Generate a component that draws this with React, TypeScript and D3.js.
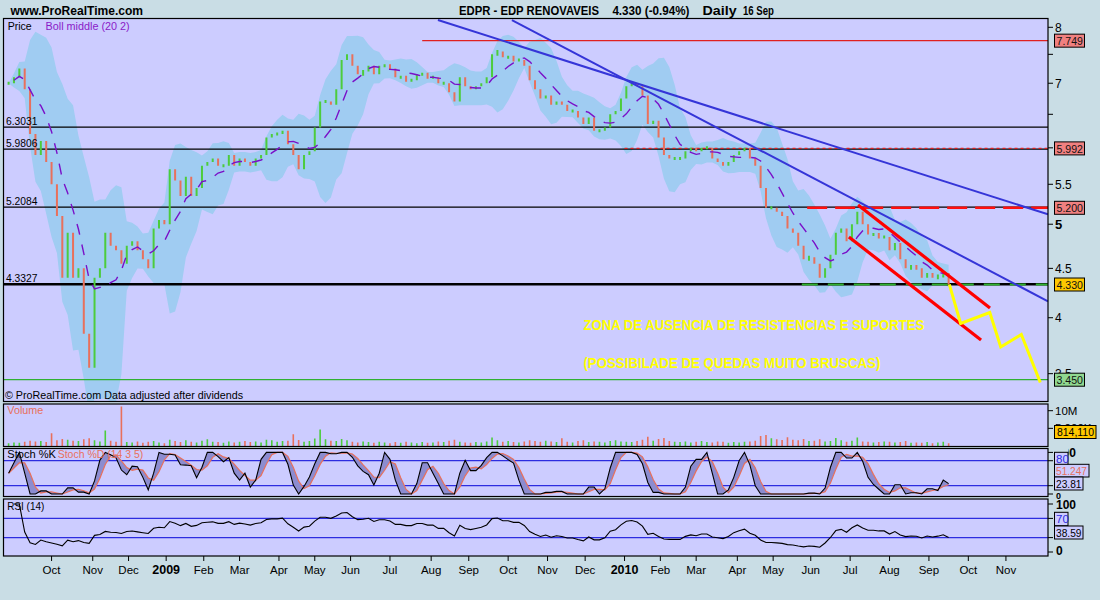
import React from "react";
import * as d3 from "d3";

// ---------- calendar (trading days shown on the time axis) ----------
const CAL_START = "2008-08-27";
const CAL_END = "2010-11-30";
const HOLIDAYS = [
  "2008-12-25", "2008-12-26", "2009-01-01", "2009-04-10", "2009-04-13",
  "2009-05-01", "2009-12-25", "2010-01-01", "2010-04-02", "2010-04-05",
];
const MONTH_LABELS = ["Jan", "Feb", "Mar", "Apr", "May", "Jun", "Jul", "Aug", "Sep", "Oct", "Nov", "Dec"];

// ---------- price data: one close every 3 trading days (first = trading day 1) ----------
const SAMPLE_FIRST_DAY = 1;
const SAMPLE_STEP = 3;
const closes = [
  7.0, 7.1, 7.25, 6.9, 6.2, 5.9, 6.1, 5.8, 5.5, 5.1,
  4.4, 4.9, 4.4, 4.5, 3.85, 3.55, 4.4, 4.5, 4.9, 4.75,
  4.7, 4.55, 4.75, 4.8, 4.7, 4.6, 4.5, 4.95, 5.05, 5.0,
  5.7, 5.55, 5.35, 5.6, 5.35, 5.45, 5.75, 5.8, 5.85, 5.75,
  5.75, 5.9, 5.75, 5.85, 5.8, 5.75, 5.85, 5.9, 6.15, 6.2,
  6.2, 6.25, 6.05, 5.9, 5.7, 5.9, 5.95, 6.3, 6.7, 6.7,
  6.65, 6.9, 7.4, 7.5, 7.3, 7.15, 7.2, 7.3, 7.15, 7.3,
  7.3, 7.25, 7.1, 7.1, 7.05, 7.05, 7.15, 7.15, 7.1, 7.1,
  7.0, 7.0, 6.85, 6.7, 7.1, 6.95, 6.9, 6.95, 7.0, 7.1,
  7.5, 7.55, 7.45, 7.45, 7.4, 7.4, 7.3, 7.05, 6.9, 6.75,
  6.8, 6.65, 6.7, 6.65, 6.55, 6.55, 6.45, 6.35, 6.45, 6.25,
  6.25, 6.3, 6.5, 6.55, 6.75, 6.95, 7.0, 6.95, 6.8, 6.35,
  6.4, 6.15, 5.9, 5.85, 5.85, 5.85, 5.95, 6.0, 5.95, 6.0,
  6.0, 5.85, 5.8, 5.75, 5.8, 5.9, 5.95, 6.0, 5.85, 5.75,
  5.45, 5.2, 5.2, 5.15, 5.1, 4.95, 4.9, 4.75, 4.6, 4.62,
  4.55, 4.4, 4.5, 4.65, 4.9, 4.95, 4.8, 5.0, 5.15, 5.0,
  4.88, 4.88, 4.85, 4.85, 4.7, 4.78, 4.6, 4.5, 4.52, 4.5,
  4.4, 4.45, 4.4, 4.42, 4.45, 4.33,
];
// volume in millions, same sampling
const volumesM = [
  0.8, 1.0, 0.9, 1.2, 1.5, 1.3, 1.4, 1.1, 3.6, 1.6,
  2.0, 1.8, 1.5, 1.4, 1.9, 2.2, 1.6, 1.3, 4.4, 1.5,
  1.2, 11.2, 1.1, 1.0, 1.3, 0.9, 1.2, 1.4, 1.0, 0.8,
  1.8, 1.4, 1.1, 1.6, 1.2, 1.0, 1.5, 1.9, 1.2, 1.1,
  0.9, 1.3, 1.0, 1.2, 1.4, 1.1, 1.3, 1.0, 1.8, 1.6,
  1.2, 1.4, 1.5, 3.3, 1.7, 1.2, 1.4, 2.1, 4.7, 1.9,
  1.5, 1.4, 2.0, 1.6, 1.2, 1.0, 1.3, 1.1, 0.9, 1.2,
  1.0, 0.8, 1.1, 0.9, 1.2, 1.0, 0.8, 1.1, 0.9, 1.0,
  1.3, 1.1, 1.5, 1.8, 1.2, 1.0, 0.9, 1.1, 1.0, 1.3,
  2.4, 1.6, 1.2, 1.4, 1.1, 1.0, 1.3, 1.6, 1.4, 1.2,
  1.5, 1.3, 1.1, 2.2, 1.2, 1.0, 1.4, 1.6, 1.1, 1.3,
  1.2, 1.0, 1.4, 1.6, 1.3, 1.2, 1.1, 1.4, 1.8, 2.6,
  1.5, 2.0, 2.3, 1.4, 1.2, 1.1, 1.3, 1.0, 1.2, 1.4,
  1.1, 1.0, 1.3, 1.2, 0.9, 1.1, 1.0, 1.2, 1.3, 1.5,
  2.8, 3.1, 2.2, 1.9, 1.7, 2.5, 1.8, 1.6, 2.0, 1.4,
  1.5, 1.9, 1.3, 1.4, 2.3, 1.6, 1.2, 1.5, 2.4, 1.3,
  1.2, 1.0, 1.1, 1.3, 1.2, 1.0, 1.1, 1.4, 0.9, 1.0,
  0.9, 1.1, 0.8, 1.0, 1.2, 0.8,
];

// ---------- axis ticks ----------
const priceTicks = [3.5, 4, 4.5, 5, 5.5, 6, 6.5, 7, 7.5, 8];
const priceTickLabels = ["3.5", "4", "4.5", "5", "5.5", "", "", "7", "", "8"];

// ---------- horizontal levels ----------
const pivotLevels = [6.3031, 5.9806, 5.2084, 4.3327];
const pivotLabels = ["6.3031", "5.9806", "5.2084", "4.3327"];
const markerLevels = [7.749, 5.992, 5.2, 4.33, 3.45];
const markerLabels = ["7.749", "5.992", "5.200", "4.330", "3.450"];
const markerFromDay = [232, 345, 447, 444, 0];

// ---------- drawn annotations: [trading day, price] ----------
const blueLines = [
  [[240.8, 8.14], [581.5, 5.12]],
  [[282.1, 8.14], [581.5, 4.16]],
];
const redLines = [
  [[475.4, 5.235], [549.1, 4.094]],
  [[470.3, 4.85], [544.1, 3.793]],
];
const yellowPath = [
  [526.4, 4.332], [532.7, 3.946], [549.0, 4.05], [555.1, 3.73], [566.6, 3.844], [577.2, 3.427],
];
const noteLines = [
  "ZONA DE AUSENCIA DE RESISTENCIAS E SUPORTES",
  "(POSSIBILADE DE QUEDAS MUITO BRUSCAS)",
];

// ---------- helpers ----------
function buildCalendar(): Date[] {
  const out: Date[] = [];
  const hol = new Set(HOLIDAYS);
  const d = new Date(CAL_START + "T00:00:00Z");
  const end = new Date(CAL_END + "T00:00:00Z");
  while (d <= end) {
    const wd = d.getUTCDay();
    const key = d.toISOString().slice(0, 10);
    if (wd !== 0 && wd !== 6 && !hol.has(key)) out.push(new Date(d));
    d.setUTCDate(d.getUTCDate() + 1);
  }
  return out;
}
const sma = (arr: number[], i: number, w: number) => d3.mean(arr.slice(Math.max(0, i - w + 1), i + 1)) as number;

const FONT = "'Liberation Sans', Arial, sans-serif";

export default function App() {
  const cal = buildCalendar();
  const PL = 3.5, PR = 1048;
  const pTop = 18.5, pBot = 401.5;
  const vTop = 404, vBot = 446.5;
  const sTop = 448.5, sBot = 496.5;
  const rTop = 499, rBot = 556;

  const x = d3.scaleLinear().domain([0, 581.5]).range([6.8, 1048]);
  const y = d3.scaleLog().domain([3.45, 8]).range([379.7, 27.3]);
  const vy = d3.scaleLinear().domain([0, 10e6]).range([446, 410.7]);
  const sy = d3.scaleLinear().domain([0, 100]).range([494, 452.4]);
  const ry = d3.scaleLinear().domain([0, 100]).range([552, 504]);

  const n = closes.length;
  const dayOf = (i: number) => SAMPLE_FIRST_DAY + SAMPLE_STEP * i;
  const idx = d3.range(n);

  // Bollinger (20 days ~ 7 samples)
  const W = 7;
  const boll = idx.map((i) => {
    const win = closes.slice(Math.max(0, i - W + 1), i + 1);
    const m = d3.mean(win) as number;
    const sd = Math.sqrt(d3.mean(win.map((v) => (v - m) * (v - m))) as number);
    return { i, m, up: m + 2.4 * sd, lo: m - 2.4 * sd };
  });

  // Stochastic
  const raw = idx.map((i) => {
    const win = closes.slice(Math.max(0, i - 5), i + 1);
    const hh = d3.max(win) as number, ll = d3.min(win) as number;
    return hh === ll ? 50 : (100 * (closes[i] - ll)) / (hh - ll);
  });
  const K = idx.map((i) => sma(raw, i, 2));
  const D = idx.map((i) => sma(K, i, 3));

  // RSI (Wilder)
  const P = 10;
  const rsi: number[] = [];
  let ag = 0, al = 0;
  for (let i = 0; i < n; i++) {
    if (i === 0) { rsi.push(50); continue; }
    const ch = closes[i] - closes[i - 1];
    const g = Math.max(ch, 0), l = Math.max(-ch, 0);
    if (i <= P) { ag += g / P; al += l / P; }
    else { ag = (ag * (P - 1) + g) / P; al = (al * (P - 1) + l) / P; }
    rsi.push(al === 0 ? 100 : 100 - 100 / (1 + ag / al));
  }

  const bandArea = d3.area<any>().x((d) => x(dayOf(d.i))).y0((d) => y(d.lo)).y1((d) => y(d.up));
  const midLine = d3.line<any>().x((d) => x(dayOf(d.i))).y((d) => y(d.m));
  const kLine = d3.line<number>().x((i) => x(dayOf(i))).y((i) => sy(K[i]));
  const dLine = d3.line<number>().x((i) => x(dayOf(i))).y((i) => sy(D[i]));
  const kdArea = d3.area<number>().x((i) => x(dayOf(i))).y0((i) => sy(D[i])).y1((i) => sy(K[i]));
  const rsiLine = d3.line<number>().x((i) => x(dayOf(i))).y((i) => ry(rsi[i]));
  const ptLine = d3.line<number[]>().x((p) => x(p[0])).y((p) => y(p[1]));

  // month ticks
  const monthTicks: { d: number; label: string; bold: boolean }[] = [];
  cal.forEach((dt, i) => {
    if (i === 0 || dt.getUTCMonth() !== cal[i - 1].getUTCMonth()) {
      const m = dt.getUTCMonth();
      monthTicks.push({ d: i, label: m === 0 ? String(dt.getUTCFullYear()) : MONTH_LABELS[m], bold: m === 0 });
    }
  });

  const UP = "#4ccc3c", DN = "#e8705c";
  const panelBg = "#ccccff";
  const boxFills = ["#f08080", "#f08080", "#f08080", "#ffc800", "#90d890"];

  return (
    <svg width={1100} height={600} style={{ position: "absolute", left: 0, top: 0 }} fontFamily={FONT}>
      <defs>
        <clipPath id="pclip"><rect x={PL} y={pTop} width={PR - PL} height={pBot - pTop} /></clipPath>
        <clipPath id="vclip"><rect x={PL} y={vTop} width={PR - PL} height={vBot - vTop} /></clipPath>
        <clipPath id="sclip"><rect x={PL} y={sTop} width={PR - PL} height={sBot - sTop} /></clipPath>
        <clipPath id="rclip"><rect x={PL} y={rTop} width={PR - PL} height={rBot - rTop} /></clipPath>
        <clipPath id="v5clip"><rect x={1050} y={418} width={50} height={7.5} /></clipPath>
        <clipPath id="s100clip"><rect x={1068.5} y={440} width={30} height={24} /></clipPath>
        <clipPath id="p35clip"><rect x={1050} y={360} width={50} height={13} /></clipPath>
      </defs>
      <rect x={0} y={0} width={1100} height={600} fill="#c9dde5" />

      {/* header */}
      <text x={10.5} y={14.7} fontSize={13} fontWeight="bold" textLength={132.5} lengthAdjust="spacingAndGlyphs">www.ProRealTime.com</text>
      <text x={459} y={14.5} fontSize={12.5} fontWeight="bold" textLength={140} lengthAdjust="spacingAndGlyphs">EDPR - EDP RENOVAVEIS</text>
      <text x={612.4} y={14.5} fontSize={12.5} fontWeight="bold" textLength={77} lengthAdjust="spacingAndGlyphs">4.330 (-0.94%)</text>
      <text x={702.6} y={14.5} fontSize={12.5} fontWeight="bold" textLength={34} lengthAdjust="spacingAndGlyphs">Daily</text>
      <text x={743} y={14.5} fontSize={12.5} fontWeight="bold" textLength={31} lengthAdjust="spacingAndGlyphs">16 Sep</text>

      {/* ===== price panel ===== */}
      <rect x={PL} y={pTop} width={PR - PL} height={pBot - pTop} fill={panelBg} />
      <g clipPath="url(#pclip)">
        <path d={bandArea(boll) as string} fill="#a0ccf2" />
        {pivotLevels.map((p, k) => (
          <line key={"pv" + k} x1={PL} x2={PR} y1={y(p)} y2={y(p)} stroke="#000" strokeWidth={k === 3 ? 2.5 : 1.2} />
        ))}
        <line x1={x(markerFromDay[0])} x2={PR} y1={y(markerLevels[0])} y2={y(markerLevels[0])} stroke="#e02020" strokeWidth={1.2} />
        <line x1={x(markerFromDay[1])} x2={PR} y1={y(markerLevels[1])} y2={y(markerLevels[1])} stroke="#e02020" strokeWidth={1.2} strokeDasharray="3 3" />
        <line x1={x(markerFromDay[2])} x2={PR} y1={y(markerLevels[2])} y2={y(markerLevels[2])} stroke="#ff1010" strokeWidth={2.5} strokeDasharray="20 8" />
        <line x1={x(markerFromDay[3])} x2={PR} y1={y(markerLevels[3])} y2={y(markerLevels[3])} stroke="#30b030" strokeWidth={2} strokeDasharray="16 10" />
        <line x1={PL} x2={PR} y1={y(markerLevels[4])} y2={y(markerLevels[4])} stroke="#30b030" strokeWidth={1.2} />

        {idx.map((i) => {
          const c = closes[i];
          const pc = i === 0 ? c : closes[i - 1];
          let y1 = y(Math.max(c, pc)), y2 = y(Math.min(c, pc));
          if (y2 - y1 < 3) { y1 -= 1.5; y2 += 1.5; }
          const xx = x(dayOf(i));
          return <line key={"b" + i} x1={xx} x2={xx} y1={y1} y2={y2} stroke={c >= pc ? UP : DN} strokeWidth={2} />;
        })}
        <path d={midLine(boll.slice(1)) as string} fill="none" stroke="#7a10c8" strokeWidth={1.4} strokeDasharray="11 10" />

        {blueLines.map((l, k) => (
          <path key={"bl" + k} d={ptLine(l) as string} stroke="#3535d8" strokeWidth={2} fill="none" />
        ))}
        {redLines.map((l, k) => (
          <path key={"rl" + k} d={ptLine(l) as string} stroke="#ff0000" strokeWidth={3.2} fill="none" />
        ))}
        <path d={ptLine(yellowPath) as string} stroke="#ffff00" strokeWidth={3} fill="none" strokeLinejoin="miter" />

        <text x={583.4} y={330} fontSize={14} fontWeight="bold" fill="#ffff00" textLength={341} lengthAdjust="spacingAndGlyphs">{noteLines[0]}</text>
        <text x={583.4} y={368} fontSize={14} fontWeight="bold" fill="#ffff00" textLength={297} lengthAdjust="spacingAndGlyphs">{noteLines[1]}</text>

        {pivotLevels.map((p, k) => (
          <text key={"pl" + k} x={6} y={y(p) - 2.3} fontSize={11} fill="#000" textLength={31.5} lengthAdjust="spacingAndGlyphs">{pivotLabels[k]}</text>
        ))}
      </g>
      <text x={7.7} y={29.5} fontSize={10} fill="#000" textLength={24} lengthAdjust="spacingAndGlyphs">Price</text>
      <text x={45.6} y={29.5} fontSize={10} fill="#8a1ac8" textLength={84} lengthAdjust="spacingAndGlyphs">Boll middle (20 2)</text>
      <text x={5} y={398.6} fontSize={11} fill="#000" textLength={238} lengthAdjust="spacingAndGlyphs">© ProRealTime.com  Data adjusted after dividends</text>
      <rect x={PL} y={pTop} width={PR - PL} height={pBot - pTop} fill="none" stroke="#000" strokeWidth={1.2} />

      {/* price axis */}
      {priceTicks.map((p, k) => (
        <g key={"pt" + k}>
          <line x1={PR} x2={PR + 5} y1={y(p)} y2={y(p)} stroke="#000" />
          {priceTickLabels[k] && (
            <text x={PR + 7} y={y(p) + 4.5} fontSize={p === 5 ? 13 : 12} fontWeight={p === 5 ? "bold" : "normal"}
              clipPath={p === 3.5 ? "url(#p35clip)" : undefined}>{priceTickLabels[k]}</text>
          )}
        </g>
      ))}
      {markerLevels.map((p, k) => (
        <g key={"mk" + k}>
          <rect x={1054.5} y={y(p) - 6.5} width={30} height={13} fill={boxFills[k]} stroke="#000" strokeWidth={1} />
          <text x={1056.5} y={y(p) + 4.5} fontSize={11.5} fill="#111" textLength={26.5} lengthAdjust="spacingAndGlyphs">{markerLabels[k]}</text>
        </g>
      ))}

      {/* ===== volume panel ===== */}
      <rect x={PL} y={vTop} width={PR - PL} height={vBot - vTop} fill={panelBg} />
      <g clipPath="url(#vclip)">
        {idx.map((i) => {
          const xx = x(dayOf(i));
          const up = i === 0 || closes[i] >= closes[i - 1];
          return <line key={"v" + i} x1={xx} x2={xx} y1={vy(0)} y2={vy(volumesM[i] * 1e6)} stroke={up ? UP : DN} strokeWidth={1.6} />;
        })}
      </g>
      <text x={7.3} y={414} fontSize={10} fill="#e8705c" textLength={36} lengthAdjust="spacingAndGlyphs">Volume</text>
      <rect x={PL} y={vTop} width={PR - PL} height={vBot - vTop} fill="none" stroke="#000" strokeWidth={1.2} />
      <line x1={PR} x2={PR + 5} y1={vy(10e6)} y2={vy(10e6)} stroke="#000" />
      <text x={PR + 7} y={vy(10e6) + 4} fontSize={11.5}>10M</text>
      <line x1={PR} x2={PR + 5} y1={vy(5e6)} y2={vy(5e6)} stroke="#000" />
      <text x={PR + 7} y={vy(5e6) + 4} fontSize={11.5} clipPath="url(#v5clip)">5,000K</text>
      <rect x={1054.5} y={425.5} width={41.5} height={13} fill="#ffc800" stroke="#000" />
      <text x={1057} y={436} fontSize={11.5} textLength={37} lengthAdjust="spacingAndGlyphs">814,110</text>

      {/* ===== stochastic panel ===== */}
      <rect x={PL} y={sTop} width={PR - PL} height={sBot - sTop} fill={panelBg} />
      <g clipPath="url(#sclip)">
        <line x1={PL} x2={PR} y1={sy(80)} y2={sy(80)} stroke="#2c2ce0" strokeWidth={1.2} />
        <line x1={PL} x2={PR} y1={sy(20)} y2={sy(20)} stroke="#2c2ce0" strokeWidth={1.2} />
        <path d={kdArea(idx) as string} fill="#8c8cd0" />
        <path d={dLine(idx) as string} fill="none" stroke="#e8705c" strokeWidth={1.2} />
        <path d={kLine(idx) as string} fill="none" stroke="#000" strokeWidth={1.1} />
      </g>
      <text x={7.3} y={458.3} fontSize={10.5} fill="#000" textLength={48.7} lengthAdjust="spacingAndGlyphs">Stoch %K</text>
      <text x={57.7} y={458.3} fontSize={10.5} fill="#e8705c" textLength={85.6} lengthAdjust="spacingAndGlyphs">Stoch %D (14 3 5)</text>
      <rect x={PL} y={sTop} width={PR - PL} height={sBot - sTop} fill="none" stroke="#000" strokeWidth={1.2} />
      {[100, 80, 20, 0].map((v) => (
        <line key={"st" + v} x1={PR} x2={PR + 5} y1={sy(v)} y2={sy(v)} stroke="#000" />
      ))}
      <text x={PR + 8} y={sy(100) + 5} fontSize={12} fontWeight="bold" clipPath="url(#s100clip)">100</text>
      <rect x={1054.5} y={452.3} width={13.5} height={12.7} fill={panelBg} stroke="#000" />
      <text x={1056} y={462.5} fontSize={11.5} fill="#2c2ce0">80</text>
      <rect x={1054.5} y={464.3} width={34.5} height={12.7} fill={panelBg} stroke="#000" />
      <text x={1056} y={474.8} fontSize={11.5} fill="#e8705c" textLength={31} lengthAdjust="spacingAndGlyphs">51.247</text>
      <rect x={1054.5} y={477} width={28.5} height={13} fill={panelBg} stroke="#000" />
      <text x={1056} y={487.5} fontSize={11.5} fill="#000" textLength={25.5} lengthAdjust="spacingAndGlyphs">23.81</text>
      <text x={PR + 8} y={sy(0) + 5} fontSize={9} fontWeight="bold">0</text>

      {/* ===== RSI panel ===== */}
      <rect x={PL} y={rTop} width={PR - PL} height={rBot - rTop} fill={panelBg} />
      <g clipPath="url(#rclip)">
        <line x1={PL} x2={PR} y1={ry(70)} y2={ry(70)} stroke="#2c2ce0" strokeWidth={1.2} />
        <line x1={PL} x2={PR} y1={ry(30)} y2={ry(30)} stroke="#2c2ce0" strokeWidth={1.2} />
        <path d={rsiLine(idx.slice(1)) as string} fill="none" stroke="#000" strokeWidth={1.1} />
      </g>
      <text x={7.3} y={509.5} fontSize={10.5} fill="#000" textLength={37} lengthAdjust="spacingAndGlyphs">RSI (14)</text>
      <rect x={PL} y={rTop} width={PR - PL} height={rBot - rTop} fill="none" stroke="#000" strokeWidth={1.2} />
      {[100, 70, 30, 0].map((v) => (
        <line key={"rt" + v} x1={PR} x2={PR + 5} y1={ry(v)} y2={ry(v)} stroke="#000" />
      ))}
      <text x={PR + 8} y={ry(100) + 5} fontSize={12} fontWeight="bold">100</text>
      <text x={PR + 8} y={ry(0) + 3} fontSize={12} fontWeight="bold">0</text>
      <rect x={1054.5} y={512.3} width={13.5} height={13.4} fill={panelBg} stroke="#000" />
      <text x={1056} y={523} fontSize={11.5} fill="#2c2ce0">70</text>
      <rect x={1054.5} y={526} width={28.5} height={13} fill={panelBg} stroke="#000" />
      <text x={1056} y={536.5} fontSize={11.5} fill="#000" textLength={25.5} lengthAdjust="spacingAndGlyphs">38.59</text>

      {/* ===== time axis ===== */}
      {monthTicks.filter((t) => x(t.d) > 30 && x(t.d) < PR).map((t) => (
        <g key={"mt" + t.d}>
          <line x1={x(t.d)} x2={x(t.d)} y1={rBot} y2={rBot + 5} stroke="#000" />
          <text x={x(t.d)} y={573.5} fontSize={t.bold ? 12.5 : 11.5} fontWeight={t.bold ? "bold" : "normal"} textAnchor="middle">{t.label}</text>
        </g>
      ))}
    </svg>
  );
}
